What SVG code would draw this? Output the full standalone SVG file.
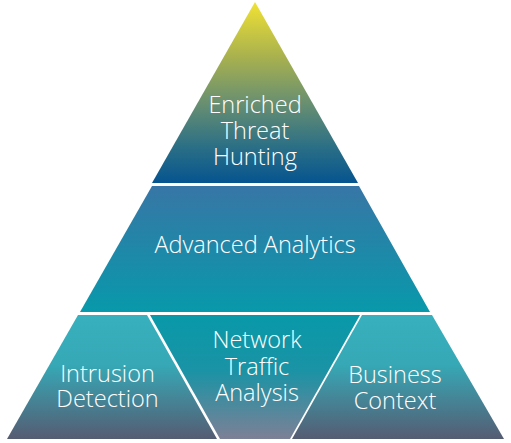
<svg xmlns="http://www.w3.org/2000/svg" width="511" height="443" viewBox="0 0 511 443">
  <style>
    text { font-family: "Open Sans", "Liberation Sans", sans-serif; font-weight: 300; font-size: 23.5px; fill: #ffffff; text-anchor: middle; }
  </style>
  <defs>
    <linearGradient id="gTop" gradientUnits="userSpaceOnUse" x1="0" y1="3" x2="0" y2="183">
      <stop offset="0" stop-color="#efe134"/>
      <stop offset="0.3" stop-color="#a8b14e"/>
      <stop offset="0.55" stop-color="#6a9070"/>
      <stop offset="0.8" stop-color="#2b6f86"/>
      <stop offset="1" stop-color="#05548f"/>
    </linearGradient>
    <linearGradient id="gMid" gradientUnits="userSpaceOnUse" x1="0" y1="186" x2="0" y2="312">
      <stop offset="0" stop-color="#3776a6"/>
      <stop offset="1" stop-color="#0899ab"/>
    </linearGradient>
    <linearGradient id="gSide" gradientUnits="userSpaceOnUse" x1="0" y1="315" x2="0" y2="439">
      <stop offset="0" stop-color="#38b0bd"/>
      <stop offset="0.4" stop-color="#36a8b6"/>
      <stop offset="1" stop-color="#555c72"/>
    </linearGradient>
    <linearGradient id="gCenter" gradientUnits="userSpaceOnUse" x1="0" y1="315" x2="0" y2="439">
      <stop offset="0" stop-color="#0899a9"/>
      <stop offset="0.45" stop-color="#1a93a5"/>
      <stop offset="1" stop-color="#7d8096"/>
    </linearGradient>
  </defs>

  <g id="node-threat-hunting">
    <polygon points="255,2 358,183 152,183" fill="url(#gTop)"/>
    <text x="255" y="113">Enriched</text>
    <text x="255" y="139">Threat</text>
    <text x="255" y="165">Hunting</text>
  </g>

  <g id="node-advanced-analytics">
    <polygon points="152,186 359,186 430,312 80,312" fill="url(#gMid)"/>
    <text x="255" y="253">Advanced Analytics</text>
  </g>

  <g id="node-intrusion-detection">
    <polygon points="78,315 147,315 217,439 7,439" fill="url(#gSide)"/>
    <text x="107.5" y="382">Intrusion</text>
    <text x="107.5" y="407">Detection</text>
  </g>

  <g id="node-network-traffic">
    <polygon points="150,315 360,315 290,439 220,439" fill="url(#gCenter)"/>
    <text x="257" y="348">Network</text>
    <text x="257" y="375">Traffic</text>
    <text x="257" y="401">Analysis</text>
  </g>

  <g id="node-business-context">
    <polygon points="362,315 432,315 504,439 292,439" fill="url(#gSide)"/>
    <text x="395" y="383">Business</text>
    <text x="395" y="409">Context</text>
  </g>

  <g id="connectors"></g>
</svg>
